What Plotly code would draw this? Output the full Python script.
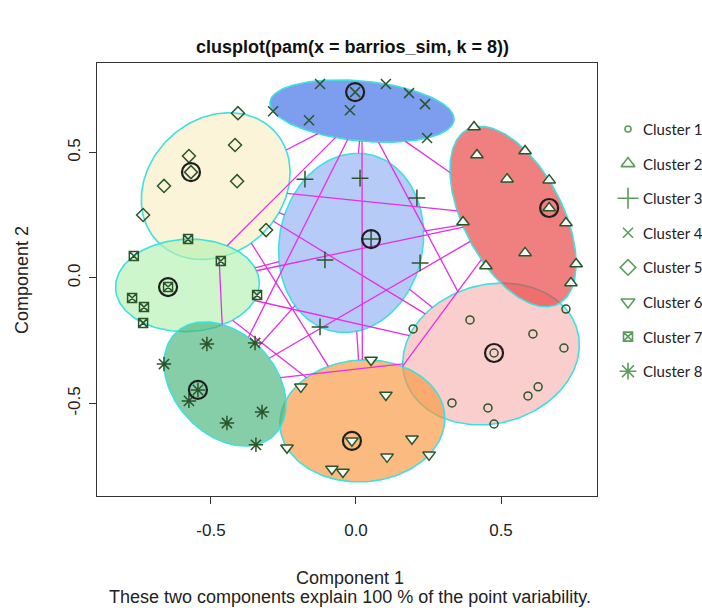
import numpy as np
import plotly.graph_objects as go

# ---- cluster members (Component 1, Component 2) ----
c1_x = [0.197, 0.393, 0.610, 0.724, 0.717, 0.476, 0.628, 0.593, 0.331, 0.455, 0.476]
c1_y = [-0.203, -0.167, -0.223, -0.124, -0.279, -0.299, -0.434, -0.470, -0.498, -0.518, -0.582]
c2_x = [0.407, 0.417, 0.583, 0.521, 0.666, 0.666, 0.724, 0.369, 0.583, 0.448, 0.759, 0.741]
c2_y = [0.602, 0.490, 0.506, 0.394, 0.390, 0.279, 0.219, 0.223, 0.100, 0.048, 0.056, -0.020]
c3_x = [-0.176, 0.014, 0.210, -0.107, 0.221, 0.052, -0.124]
c3_y = [0.394, 0.398, 0.319, 0.072, 0.060, 0.155, -0.195]
c4_x = [-0.286, -0.162, -0.124, -0.021, -0.003, 0.103, 0.183, 0.238, 0.245]
c4_y = [0.665, 0.629, 0.773, 0.669, 0.741, 0.773, 0.737, 0.693, 0.558]
c5_x = [-0.407, -0.417, -0.576, -0.569, -0.662, -0.410, -0.734, -0.310]
c5_y = [0.657, 0.530, 0.486, 0.422, 0.367, 0.386, 0.251, 0.191]
c6_x = [-0.190, 0.052, 0.103, -0.014, 0.193, -0.238, 0.107, 0.252, -0.083, -0.045]
c6_y = [-0.434, -0.327, -0.466, -0.649, -0.641, -0.677, -0.713, -0.705, -0.761, -0.773]
c7_x = [-0.579, -0.766, -0.466, -0.648, -0.772, -0.731, -0.734, -0.341]
c7_y = [0.155, 0.088, 0.068, -0.036, -0.080, -0.116, -0.179, -0.068]
c8_x = [-0.514, -0.348, -0.662, -0.545, -0.576, -0.324, -0.445, -0.345]
c8_y = [-0.263, -0.259, -0.343, -0.446, -0.490, -0.534, -0.578, -0.665]

# index of the medoid inside each cluster
medoid_idx = [5, 5, 5, 4, 3, 3, 3, 3]

cluster_names = ["Cluster 1", "Cluster 2", "Cluster 3", "Cluster 4",
                 "Cluster 5", "Cluster 6", "Cluster 7", "Cluster 8"]
symbols = ["circle-open", "triangle-up", "cross-thin-open", "x-thin-open",
           "diamond-open", "triangle-down", "square-x-open", "asterisk-open"]
sizes = [8, 11, 12, 10, 10, 11, 9, 12]
shade_colors = ["#fbcece", "#f08080", "#b7cbf8", "#7d9dee",
                "#fbf4d8", "#fbba80", "#cef6cc", "#86cea8"]

xs = [c1_x, c2_x, c3_x, c4_x, c5_x, c6_x, c7_x, c8_x]
ys = [c1_y, c2_y, c3_y, c4_y, c5_y, c6_y, c7_y, c8_y]

POINT_COL = "#2b552b"
LEG_COL = "#5c9c5c"
ALPHA = 0.65


def mvee(P, tol=1e-9, max_iter=20000):
    """Minimum-volume enclosing ellipse (Khachiyan)."""
    N, d = P.shape
    Q = np.vstack([P.T, np.ones(N)])
    u = np.ones(N) / N
    for _ in range(max_iter):
        X = Q @ np.diag(u) @ Q.T
        M = np.einsum("ij,ji->i", Q.T @ np.linalg.inv(X), Q)
        j = int(np.argmax(M))
        step = (M[j] - d - 1.0) / ((d + 1.0) * (M[j] - 1.0))
        nu = (1 - step) * u
        nu[j] += step
        if np.linalg.norm(nu - u) < tol:
            u = nu
            break
        u = nu
    c = P.T @ u
    A = np.linalg.inv(P.T @ np.diag(u) @ P - np.outer(c, c)) / d
    return c, A


def ellipse_path(c, A, n=200):
    w, V = np.linalg.eigh(A)
    t = np.linspace(0, 2 * np.pi, n)
    circ = np.vstack([np.cos(t), np.sin(t)])
    pts = V @ (np.diag(1 / np.sqrt(w)) @ circ)
    return c[0] + pts[0], c[1] + pts[1]


def solid_equivalent(hexcol, a):
    h = hexcol.lstrip("#")
    rgb = [int(h[i:i + 2], 16) for i in (0, 2, 4)]
    src = [max(0, min(255, round((v - (1 - a) * 255) / a))) for v in rgb]
    return "rgba(%d,%d,%d,%.2f)" % (src[0], src[1], src[2], a)


fig = go.Figure()

# ellipses
hulls = []
for k in range(8):
    P = np.column_stack([xs[k], ys[k]])
    c, A = mvee(P)
    hulls.append((c, A))
    ex, ey = ellipse_path(c, A)
    fig.add_trace(go.Scatter(
        x=ex, y=ey, mode="lines", fill="toself",
        fillcolor=solid_equivalent(shade_colors[k], ALPHA),
        line=dict(color="#3fe0e0", width=1.6),
        hoverinfo="skip", showlegend=False))

# segments joining the ellipses along the line between their centres
seg_x, seg_y = [], []
for i in range(8):
    for j in range(i + 1, 8):
        ci, Ai = hulls[i]
        cj, Aj = hulls[j]
        d = cj - ci
        ti = 1.0 / np.sqrt(d @ Ai @ d)
        tj = 1.0 - 1.0 / np.sqrt(d @ Aj @ d)
        if ti < tj:
            p0 = ci + ti * d
            p1 = ci + tj * d
            seg_x += [p0[0], p1[0], None]
            seg_y += [p0[1], p1[1], None]
fig.add_trace(go.Scatter(x=seg_x, y=seg_y, mode="lines",
                         line=dict(color="#e62ee6", width=1.3),
                         hoverinfo="skip", showlegend=False))

# observations
for k in range(8):
    filled = symbols[k] in ("triangle-up", "triangle-down")
    fig.add_trace(go.Scatter(
        x=xs[k], y=ys[k], mode="markers", name=cluster_names[k],
        marker=dict(symbol=symbols[k], size=sizes[k],
                    color="#f4fbf8" if filled else POINT_COL,
                    line=dict(color=POINT_COL, width=1.5)),
        showlegend=False))

# medoids
fig.add_trace(go.Scatter(
    x=[xs[k][medoid_idx[k]] for k in range(8)],
    y=[ys[k][medoid_idx[k]] for k in range(8)],
    mode="markers",
    marker=dict(symbol="circle-open", size=18, color="#1e1e1e",
                line=dict(width=2.2, color="#1e1e1e")),
    hoverinfo="skip", showlegend=False))

# legend on the right, drawn in its own pixel-scaled axes
leg_y = [129 + 34.6 * i for i in range(8)]
leg_sizes = [6, 12, 15, 10, 12, 12, 9, 14]
for k in range(8):
    filled = symbols[k] in ("triangle-up", "triangle-down")
    fig.add_trace(go.Scatter(
        x=[628], y=[leg_y[k]], xaxis="x2", yaxis="y2", mode="markers",
        marker=dict(symbol=symbols[k], size=leg_sizes[k],
                    color="white" if filled else LEG_COL,
                    line=dict(color=LEG_COL, width=1.6)),
        hoverinfo="skip", showlegend=False))
    fig.add_annotation(x=641, y=leg_y[k], xref="x2", yref="y2",
                       text=cluster_names[k], showarrow=False,
                       xanchor="left", yanchor="middle",
                       font=dict(family="Lato, Arial", size=15, color="#222222"))

W, H = 702, 608
L, R, T, B = 97, 597, 63, 496
tick_font = dict(family="Liberation Sans, Arial", size=17, color="#222222")
label_font = dict(family="Liberation Sans, Arial", size=18, color="#222222")

fig.update_layout(
    width=W, height=H,
    margin=dict(l=0, r=0, t=0, b=0),
    paper_bgcolor="white", plot_bgcolor="white",
    xaxis=dict(domain=[L / W, R / W], range=[-0.893, 0.831],
               tickvals=[-0.5, 0, 0.5], ticktext=["-0.5", "0.0", "0.5"],
               ticks="outside", ticklen=7, tickcolor="#333333",
               ticklabelstandoff=11,
               showline=True, mirror=True, linecolor="#333333", linewidth=1.2,
               showgrid=False, zeroline=False, tickfont=tick_font),
    yaxis=dict(domain=[(H - B) / H, (H - T) / H], range=[-0.869, 0.857],
               tickvals=[-0.5, 0, 0.5], ticktext=["-0.5", "0.0", "0.5"],
               ticks="outside", ticklen=7, tickcolor="#333333", tickangle=-90,
               ticklabelstandoff=2,
               showline=True, mirror=True, linecolor="#333333", linewidth=1.2,
               showgrid=False, zeroline=False, tickfont=tick_font),
    xaxis2=dict(domain=[600 / W, 1.0], range=[600, 702], visible=False,
                fixedrange=True),
    yaxis2=dict(domain=[0, 1.0], range=[608, 0], visible=False,
                anchor="x2", fixedrange=True),
    showlegend=False,
)

fig.add_annotation(x=353 / W, y=1 - 47 / H, xref="paper", yref="paper",
                   text="<b>clusplot(pam(x = barrios_sim, k = 8))</b>",
                   showarrow=False, xanchor="center", yanchor="middle",
                   font=dict(family="Liberation Sans, Arial", size=18, color="#111111"))
fig.add_annotation(x=350 / W, y=1 - 578 / H, xref="paper", yref="paper",
                   text="Component 1", showarrow=False,
                   xanchor="center", yanchor="middle", font=label_font)
fig.add_annotation(x=350 / W, y=1 - 597 / H, xref="paper", yref="paper",
                   text="These two components explain 100 % of the point variability.",
                   showarrow=False, xanchor="center", yanchor="middle", font=label_font)
fig.add_annotation(x=22 / W, y=1 - 280 / H, xref="paper", yref="paper",
                   text="Component 2", showarrow=False, textangle=-90,
                   xanchor="center", yanchor="middle", font=label_font)

fig.write_html("out.html")
